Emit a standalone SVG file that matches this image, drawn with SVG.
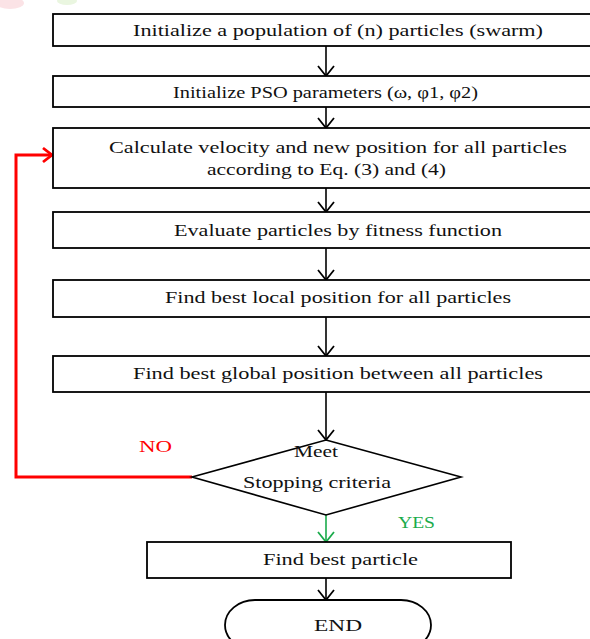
<svg xmlns="http://www.w3.org/2000/svg" width="590" height="639" viewBox="0 0 590 639">
<defs>
<style>
.box{fill:#fff;stroke:#000;stroke-width:1.8}
.t{font-family:"Liberation Serif","DejaVu Serif",serif;font-size:16px;fill:#111}
.ln{fill:none;stroke:#000;stroke-width:1.6}
</style>
<marker id="ah" viewBox="0 0 20 20" refX="19" refY="10" markerWidth="20" markerHeight="20" markerUnits="userSpaceOnUse" orient="auto">
<path d="M9,2 L19,10 L9,18" fill="none" stroke="#000" stroke-width="1.8"/>
</marker>
<marker id="ahr" viewBox="0 0 20 20" refX="19" refY="10" markerWidth="20" markerHeight="20" markerUnits="userSpaceOnUse" orient="auto">
<path d="M10,3 L19,10 L10,17" fill="none" stroke="#f00" stroke-width="2.8"/>
</marker>
<marker id="ahg" viewBox="0 0 20 20" refX="19" refY="10" markerWidth="20" markerHeight="20" markerUnits="userSpaceOnUse" orient="auto">
<path d="M9,2 L19,10 L9,18" fill="none" stroke="#1aab4b" stroke-width="1.8"/>
</marker>
</defs>
<rect width="590" height="639" fill="#fff"/>
<ellipse cx="10" cy="3" rx="14" ry="6" fill="#fbe3e6"/>
<ellipse cx="67" cy="1" rx="10" ry="4" fill="#eaf6e0"/>

<g id="connectors">
<line class="ln" x1="326" y1="46" x2="326" y2="76" marker-end="url(#ah)"/>
<line class="ln" x1="326" y1="107" x2="326" y2="128" marker-end="url(#ah)"/>
<line class="ln" x1="326" y1="188" x2="326" y2="212" marker-end="url(#ah)"/>
<line class="ln" x1="326" y1="248" x2="326" y2="280" marker-end="url(#ah)"/>
<line class="ln" x1="326" y1="317" x2="326" y2="356" marker-end="url(#ah)"/>
<line class="ln" x1="326" y1="392" x2="326" y2="440" marker-end="url(#ah)"/>
<line x1="326" y1="515" x2="326" y2="542" fill="none" stroke="#1aab4b" stroke-width="1.6" marker-end="url(#ahg)"/>
<line class="ln" x1="326" y1="578" x2="326" y2="600" marker-end="url(#ah)"/>
<path d="M192,477 H16 V155 H52" fill="none" stroke="#f00" stroke-width="3" marker-end="url(#ahr)"/>
<text x="139" y="452" style="font-family:'Liberation Serif','DejaVu Serif',serif;font-size:16px;fill:#f00" textLength="33" lengthAdjust="spacingAndGlyphs">NO</text>
<text x="398" y="528" style="font-family:'Liberation Serif','DejaVu Serif',serif;font-size:16px;fill:#1aab4b" textLength="37" lengthAdjust="spacingAndGlyphs">YES</text>
</g>

<g id="n1">
<rect class="box" x="53" y="14" width="560" height="32"/>
<text class="t" x="133" y="36" textLength="410" lengthAdjust="spacingAndGlyphs">Initialize a population of (n) particles (swarm)</text>
</g>
<g id="n2">
<rect class="box" x="53" y="76" width="560" height="31"/>
<text class="t" x="173" y="98" textLength="305" lengthAdjust="spacingAndGlyphs">Initialize PSO parameters (ω, φ1, φ2)</text>
</g>
<g id="n3">
<rect class="box" x="53" y="128" width="560" height="60"/>
<text class="t" x="109" y="153" textLength="458" lengthAdjust="spacingAndGlyphs">Calculate velocity and new position for all particles</text>
<text class="t" x="207" y="175" textLength="239" lengthAdjust="spacingAndGlyphs">according to Eq. (3) and (4)</text>
</g>
<g id="n4">
<rect class="box" x="53" y="212" width="560" height="36"/>
<text class="t" x="174" y="236" textLength="328" lengthAdjust="spacingAndGlyphs">Evaluate particles by fitness function</text>
</g>
<g id="n5">
<rect class="box" x="53" y="280" width="560" height="37"/>
<text class="t" x="165" y="303" textLength="346" lengthAdjust="spacingAndGlyphs">Find best local position for all particles</text>
</g>
<g id="n6">
<rect class="box" x="53" y="356" width="560" height="36"/>
<text class="t" x="133" y="379" textLength="410" lengthAdjust="spacingAndGlyphs">Find best global position between all particles</text>
</g>
<g id="decision">
<polygon points="326,440 461,477 326,515 192,477" fill="#fff" stroke="#000" stroke-width="1.6"/>
<text class="t" x="294" y="457" textLength="44" lengthAdjust="spacingAndGlyphs">Meet</text>
<text class="t" x="243" y="488" textLength="148" lengthAdjust="spacingAndGlyphs">Stopping criteria</text>
</g>
<g id="n7">
<rect class="box" x="147" y="542" width="364" height="36"/>
<text class="t" x="263" y="565" textLength="155" lengthAdjust="spacingAndGlyphs">Find best particle</text>
</g>
<g id="end">
<rect x="225" y="600" width="206" height="50" rx="30" ry="25" fill="#fff" stroke="#000" stroke-width="1.8"/>
<text class="t" x="314" y="631" textLength="48" lengthAdjust="spacingAndGlyphs">END</text>
</g>
</svg>
